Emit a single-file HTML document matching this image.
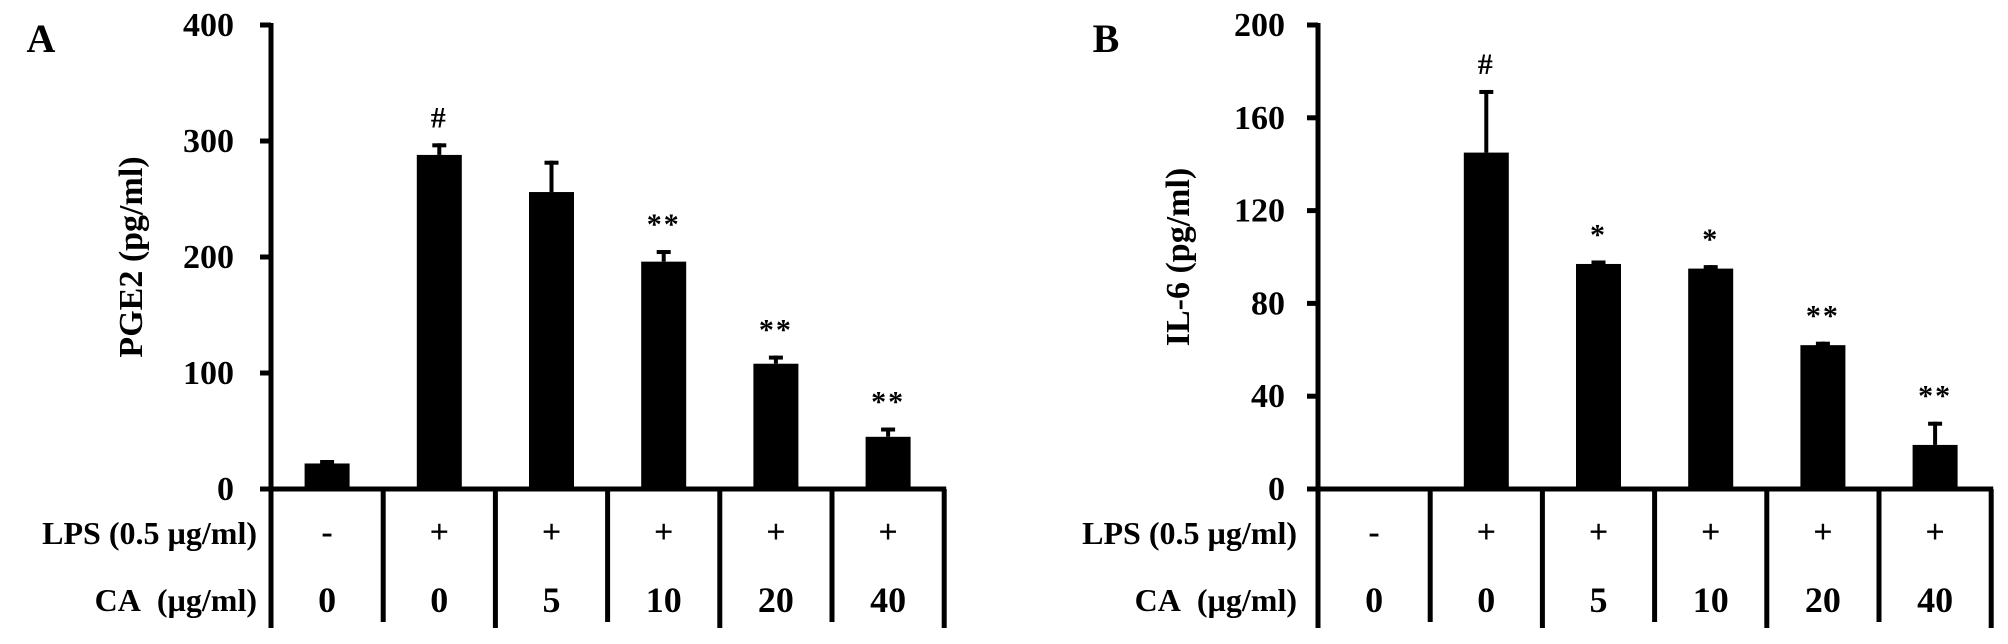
<!DOCTYPE html>
<html><head><meta charset="utf-8"><style>
html,body{margin:0;padding:0;background:#fff;}
svg{display:block;font-family:"Liberation Serif",serif;font-weight:bold;}
</style></head><body>
<svg id="fig" width="2008" height="644" viewBox="0 0 2008 644" xmlns="http://www.w3.org/2000/svg"></svg>
<script>
const lpsRow = ["-", "+", "+", "+", "+", "+"];
const caRow = ["0", "0", "5", "10", "20", "40"];
const pgeValues = [22, 288, 256, 196, 108, 45];
const pgeErrors = [3, 10, 27, 10, 7, 8];
const pgeMarks = ["", "#", "", "**", "**", "**"];
const pgeTicks = [0, 100, 200, 300, 400];
const il6Values = [0, 145, 97, 95, 62, 19];
const il6Errors = [0, 27, 1.5, 1.5, 1.5, 10];
const il6Marks = ["", "#", "*", "*", "**", "**"];
const il6Ticks = [0, 40, 80, 120, 160, 200];

const NS = "http://www.w3.org/2000/svg";
const svg = document.getElementById("fig");
function mk(tag, attrs, parent) {
  const e = document.createElementNS(NS, tag);
  for (const k in attrs) e.setAttribute(k, attrs[k]);
  (parent || svg).appendChild(e);
  return e;
}
function txt(x, y, s, size, anchor, parent) {
  const t = mk("text", {x: x, y: y, "font-size": size, "text-anchor": anchor || "middle"}, parent);
  t.textContent = s;
  return t;
}

function panel(opt) {
  const g = mk("g", {});
  
  
  const x0 = opt.axisX, y0 = 489, yTop = 25, w = 112.2;
  const ymax = opt.ticks[opt.ticks.length - 1];
  const yS = v => y0 - (v / ymax) * (y0 - yTop);
  const xC = i => x0 + w * (i + 0.5);
  const xEnd = x0 + w * opt.values.length;
  const L = txt(opt.letterX, 52, opt.letter, 40, "middle", g);
  
  
  const ya = mk("line", {x1: x0, y1: yTop - 2, x2: x0, y2: 628, stroke: "#000", "stroke-width": 5}, g);
  
  
  opt.ticks.forEach(t => {
    const y = yS(t);
    const tk = mk("line", {x1: x0 - 11, y1: y, x2: x0, y2: y, stroke: "#000", "stroke-width": 5}, g);
    
    
    const tl = txt(opt.tickRight, y + 11, String(t), 34, "end", g);
    
    
  });
  const ty = txt(0, 0, opt.title, 34, "middle", g);
  ty.setAttribute("transform", "translate(" + (opt.titleX + 12) + ",257) rotate(-90)");
  
  
  const xa = mk("line", {x1: x0 - 11, y1: y0, x2: xEnd + 2, y2: y0, stroke: "#000", "stroke-width": 5}, g);
  
  
  for (let i = 1; i <= opt.values.length; i++) {
    const dv = mk("line", {x1: x0 + w * i, y1: y0, x2: x0 + w * i, y2: (i % 2 ? 622 : 628), stroke: "#000", "stroke-width": 5}, g);
    
    
  }
  const r1 = txt(opt.rowRight, 544, "LPS (0.5 µg/ml)", 32, "end", g);
  
  
  const r2 = txt(opt.rowRight, 611, "CA\u00A0\u00A0(µg/ml)", 32, "end", g);
  
  
  opt.values.forEach((v, i) => {
    const cx = xC(i);
    const bh = y0 - yS(v);
    if (v > 0) {
      const b = mk("rect", {x: cx - 22.5, y: yS(v), width: 45, height: bh, fill: "#000"}, g);
      
      
      const e = opt.errors[i];
      const ey = yS(v + e);
      const el = mk("line", {x1: cx, y1: ey, x2: cx, y2: yS(v), stroke: "#000", "stroke-width": 4}, g);
      
      
      const ec = mk("line", {x1: cx - 7, y1: ey + 2, x2: cx + 7, y2: ey + 2, stroke: "#000", "stroke-width": 4}, g);
      
      
      if (opt.marks[i]) {
        const m = txt(cx, ey - 16, opt.marks[i], 30, "middle", g);
        m.setAttribute("letter-spacing", "2");
        
        
      }
    }
    const p = txt(cx, 543, lpsRow[i], 34, "middle", g);
    
    
    const c = txt(cx, 612, caRow[i], 36, "middle", g);
    
    
  });
}

panel({name: "panel-a-pge2", letter: "A", letterX: 41, axisX: 271, tickRight: 234, titleX: 130, rowRight: 257,
  title: "PGE2 (pg/ml)", ticks: pgeTicks, values: pgeValues, errors: pgeErrors, marks: pgeMarks});
panel({name: "panel-b-il6", letter: "B", letterX: 1106, axisX: 1318, tickRight: 1285, titleX: 1177, rowRight: 1297,
  title: "IL-6 (pg/ml)", ticks: il6Ticks, values: il6Values, errors: il6Errors, marks: il6Marks});
</script>
</body></html>
